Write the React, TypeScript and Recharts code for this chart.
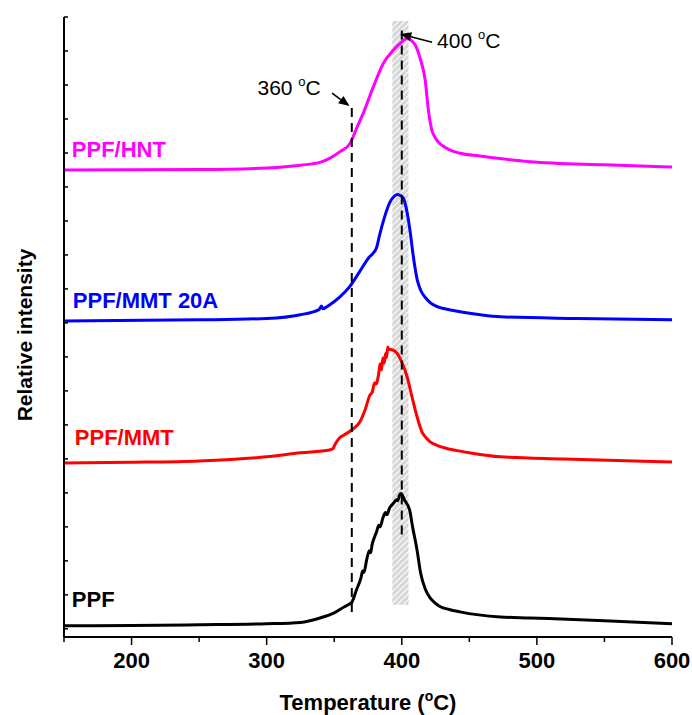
import {
  ComposedChart,
  Line,
  XAxis,
  YAxis,
  ReferenceArea,
  ReferenceLine,
  ReferenceDot,
} from "recharts";

// temperature (°C) / stacked relative intensity
const PPF_T = [150, 200, 250, 300, 325, 339.5, 350, 357.6, 361, 363, 366.5, 370, 371, 372, 374, 376, 377, 378, 380, 381.3, 383, 384, 386, 388, 389, 391, 393, 394.7, 396, 397, 398.4, 399.5, 402, 405.8, 408, 411.3, 413.9, 417.6, 421, 425, 428.6, 435, 443, 473, 495, 550, 600];
const PPF_V = [0.09, 0.1, 0.12, 0.15, 0.19, 0.32, 0.47, 0.65, 0.72, 0.78, 1.15, 1.53, 1.7, 1.66, 2.03, 2.3, 2.24, 2.47, 2.72, 2.85, 3.05, 3.0, 3.26, 3.42, 3.36, 3.56, 3.66, 3.74, 3.8, 3.77, 3.94, 3.98, 3.79, 3.5, 3.0, 2.32, 1.65, 1.15, 0.91, 0.75, 0.65, 0.57, 0.5, 0.35, 0.32, 0.24, 0.15];

const MMT_T = [150, 200, 250, 300, 325, 346.5, 349, 351, 354, 357.6, 363, 369, 372.8, 376.5, 378, 380, 381, 383, 384, 385, 386, 387, 388, 388.7, 389.6, 390.3, 392.6, 396.3, 400, 404, 407.6, 411.3, 415, 418, 421, 426, 432, 440, 450, 473, 520, 600];
const MMT_V = [4.88, 4.9, 4.94, 5.06, 5.18, 5.26, 5.3, 5.45, 5.62, 5.71, 5.85, 6.09, 6.44, 6.88, 6.95, 7.24, 7.2, 7.53, 7.8, 7.62, 7.97, 7.82, 8.1, 7.98, 8.29, 8.22, 8.21, 8.12, 7.85, 7.41, 6.82, 6.24, 5.79, 5.62, 5.5, 5.4, 5.32, 5.25, 5.18, 5.06, 5.0, 4.91];

const MMT20A_T = [150, 250, 300, 324.9, 339, 340.5, 341.5, 346.5, 354, 361.3, 368.7, 376, 379, 381.3, 383.6, 387.3, 391, 394.7, 397, 398.4, 401, 404, 406, 408.6, 411.5, 413.9, 417.6, 421, 425, 430, 436, 458, 473, 530, 600];
const MMT20A_V = [9.06, 9.09, 9.13, 9.24, 9.4, 9.5, 9.42, 9.53, 9.76, 10.06, 10.5, 10.94, 11.06, 11.21, 11.59, 12.12, 12.53, 12.74, 12.78, 12.76, 12.68, 12.24, 11.74, 10.94, 10.26, 9.97, 9.74, 9.6, 9.5, 9.43, 9.38, 9.24, 9.18, 9.13, 9.09];

const HNT_T = [150, 250, 300, 325, 340, 346.9, 354.3, 361.7, 366.6, 371.6, 379, 386.4, 393.8, 400, 403.7, 409.9, 413.6, 417.3, 419.7, 422.2, 424, 427, 430, 435, 443.2, 458, 495, 550, 600];
const HNT_V = [13.5, 13.51, 13.56, 13.64, 13.73, 13.85, 14.04, 14.28, 14.73, 15.18, 15.95, 16.64, 17.03, 17.27, 17.37, 17.18, 16.78, 16.15, 15.26, 14.68, 14.5, 14.32, 14.22, 14.1, 13.99, 13.91, 13.74, 13.65, 13.59];

const X_LABELS = [200, 300, 400, 500, 600];
const X_MINOR = [150, 250, 350, 450, 550];
const Y_TICKS = [0, 1, 2, 3, 4, 5, 6, 7, 8, 9, 10, 11, 12, 13, 14, 15, 16, 17, 18];

const FONT = '"Liberation Sans", Arial, sans-serif';

const toRows = (t: number[], v: number[]) => t.map((x, i) => ({ t: x, v: v[i] }));

const series = [
  { name: "PPF", color: "#000000", data: toRows(PPF_T, PPF_V), labelT: 155.8, labelY: 0.65 },
  { name: "PPF/MMT", color: "#FF0000", data: toRows(MMT_T, MMT_V), labelT: 158, labelY: 5.41 },
  { name: "PPF/MMT 20A", color: "#0000FF", data: toRows(MMT20A_T, MMT20A_V), labelT: 156.5, labelY: 9.44 },
  { name: "PPF/HNT", color: "#FF00FF", data: toRows(HNT_T, HNT_V), labelT: 155.8, labelY: 13.88 },
];

const xTicks = [...X_LABELS, ...X_MINOR].sort((a, b) => a - b);

function BottomTick(props: any) {
  const { x, y, payload } = props;
  const major = X_LABELS.includes(payload.value);
  return (
    <g>
      <line x1={x} x2={x} y1={y} y2={y + (major ? 8 : 5)} stroke="#000" strokeWidth={1.5} />
      {major && (
        <text x={x} y={y + 31} textAnchor="middle" fontSize={22} fontWeight="bold" fontFamily={FONT} fill="#000">
          {payload.value}
        </text>
      )}
    </g>
  );
}

function TopTick(props: any) {
  const { x, y, payload } = props;
  const major = X_LABELS.includes(payload.value);
  return <line x1={x} x2={x} y1={y} y2={y + (major ? 4 : 3)} stroke="#000" strokeWidth={1.5} />;
}

function LeftTick(props: any) {
  const { x, y } = props;
  return <line x1={x} x2={x + 4} y1={y} y2={y} stroke="#000" strokeWidth={1.5} />;
}

const arrowShape = (p: any) => {
  const { x1, y1, x2, y2 } = p;
  const a = Math.atan2(y2 - y1, x2 - x1);
  const len = 11;
  const w = 4.5;
  const bx = x2 - len * Math.cos(a);
  const by = y2 - len * Math.sin(a);
  const nx = -Math.sin(a) * w;
  const ny = Math.cos(a) * w;
  return (
    <g>
      <line x1={x1} y1={y1} x2={bx} y2={by} stroke="#000" strokeWidth={1.6} />
      <polygon points={`${x2},${y2} ${bx + nx},${by + ny} ${bx - nx},${by - ny}`} fill="#000" />
    </g>
  );
};

const tempText = (value: string) => (p: any) => {
  const vb = p.viewBox;
  return (
    <text x={vb.x} y={vb.y} fontSize={21} fontFamily={FONT} fill="#000">
      {value + " "}
      <tspan dy={-9} fontSize={13}>o</tspan>
      <tspan dy={9}>C</tspan>
    </text>
  );
};

const seriesText = (name: string, color: string) => (p: any) => {
  const vb = p.viewBox;
  return (
    <text x={vb.x} y={vb.y} fontSize={22} fontWeight="bold" fontFamily={FONT} fill={color}>
      {name}
    </text>
  );
};

export default function App() {
  return (
    <div style={{ position: "absolute", left: 0, top: 0, fontFamily: FONT }}>
      <ComposedChart width={692} height={715} margin={{ top: 17, right: 20, bottom: 0, left: 0 }}>
        <defs>
          <pattern id="hatch" patternUnits="userSpaceOnUse" width="6" height="6">
            <rect width="6" height="6" fill="#d6d6d6" />
            <path d="M0,6 L6,0 M-1,1 L1,-1 M5,7 L7,5" stroke="#ffffff" strokeWidth={1.2} />
          </pattern>
        </defs>
        <XAxis
          type="number"
          dataKey="t"
          domain={[150, 600]}
          ticks={xTicks}
          interval={0}
          height={78}
          tickSize={0}
          tickMargin={0}
          tickLine={false}
          tick={BottomTick}
          axisLine={{ stroke: "#000", strokeWidth: 2 }}
          allowDataOverflow
          label={{
            content: (p: any) => {
              const vb = p.viewBox ?? { x: 64, y: 637, width: 608, height: 78 };
              const cx = vb.x + vb.width / 2;
              return (
                <text x={cx} y={vb.y + 73} textAnchor="middle" fontSize={22} fontWeight="bold" fontFamily={FONT} fill="#000">
                  {"Temperature ("}
                  <tspan dy={-9} fontSize={14}>o</tspan>
                  <tspan dy={9}>{"C)"}</tspan>
                </text>
              );
            },
          }}
        />
        <XAxis
          xAxisId="top"
          orientation="top"
          type="number"
          dataKey="t"
          domain={[150, 600]}
          ticks={xTicks}
          interval={0}
          height={0}
          tickSize={0}
          tickMargin={0}
          tickLine={false}
          tick={TopTick}
          axisLine={{ stroke: "#000", strokeWidth: 2 }}
          allowDataOverflow
        />
        <YAxis
          type="number"
          domain={[-0.24, 18]}
          ticks={Y_TICKS}
          interval={0}
          width={64}
          tickSize={0}
          tickMargin={0}
          tickLine={false}
          tick={LeftTick}
          axisLine={{ stroke: "#000", strokeWidth: 2 }}
          allowDataOverflow
          label={{
            content: (p: any) => {
              const vb = p.viewBox ?? { x: 0, y: 17, width: 64, height: 620 };
              const cx = 24;
              const cy = vb.y + vb.height / 2 + 8;
              return (
                <text
                  x={cx}
                  y={cy}
                  transform={`rotate(-90 ${cx} ${cy})`}
                  textAnchor="middle"
                  dominantBaseline="central"
                  fontSize={21}
                  fontWeight="bold"
                  fontFamily={FONT}
                  fill="#000"
                >
                  Relative intensity
                </text>
              );
            },
          }}
        />
        <YAxis
          yAxisId="r"
          orientation="right"
          type="number"
          domain={[-0.24, 18]}
          width={0}
          tick={false}
          tickLine={false}
          axisLine={{ stroke: "#000", strokeWidth: 2 }}
        />

        <ReferenceArea x1={393} x2={405} y1={0.71} y2={17.88} fill="url(#hatch)" fillOpacity={1} stroke="none" />

        {series.map((s) => (
          <Line
            key={s.name}
            data={s.data}
            dataKey="v"
            type="monotone"
            stroke={s.color}
            strokeWidth={3}
            dot={false}
            activeDot={false}
            isAnimationActive={false}
          />
        ))}

        <ReferenceLine
          segment={[{ x: 363, y: 15.32 }, { x: 363, y: 0.47 }]}
          stroke="#000"
          strokeWidth={2}
          strokeDasharray="9 6"
        />
        <ReferenceLine
          segment={[{ x: 400, y: 17.6 }, { x: 400, y: 2.62 }]}
          stroke="#000"
          strokeWidth={2}
          strokeDasharray="9 6"
        />
        <ReferenceLine segment={[{ x: 348.4, y: 15.76 }, { x: 361.4, y: 15.38 }]} shape={arrowShape} />
        <ReferenceLine segment={[{ x: 422.4, y: 17.26 }, { x: 398.9, y: 17.5 }]} shape={arrowShape} />

        <ReferenceDot x={293.2} y={15.71} r={0} fill="none" stroke="none" label={tempText("360")} />
        <ReferenceDot x={426.1} y={17.09} r={0} fill="none" stroke="none" label={tempText("400")} />

        {series.map((s) => (
          <ReferenceDot
            key={"lbl-" + s.name}
            x={s.labelT}
            y={s.labelY}
            r={0}
            fill="none"
            stroke="none"
            label={seriesText(s.name, s.color)}
          />
        ))}
      </ComposedChart>
    </div>
  );
}
